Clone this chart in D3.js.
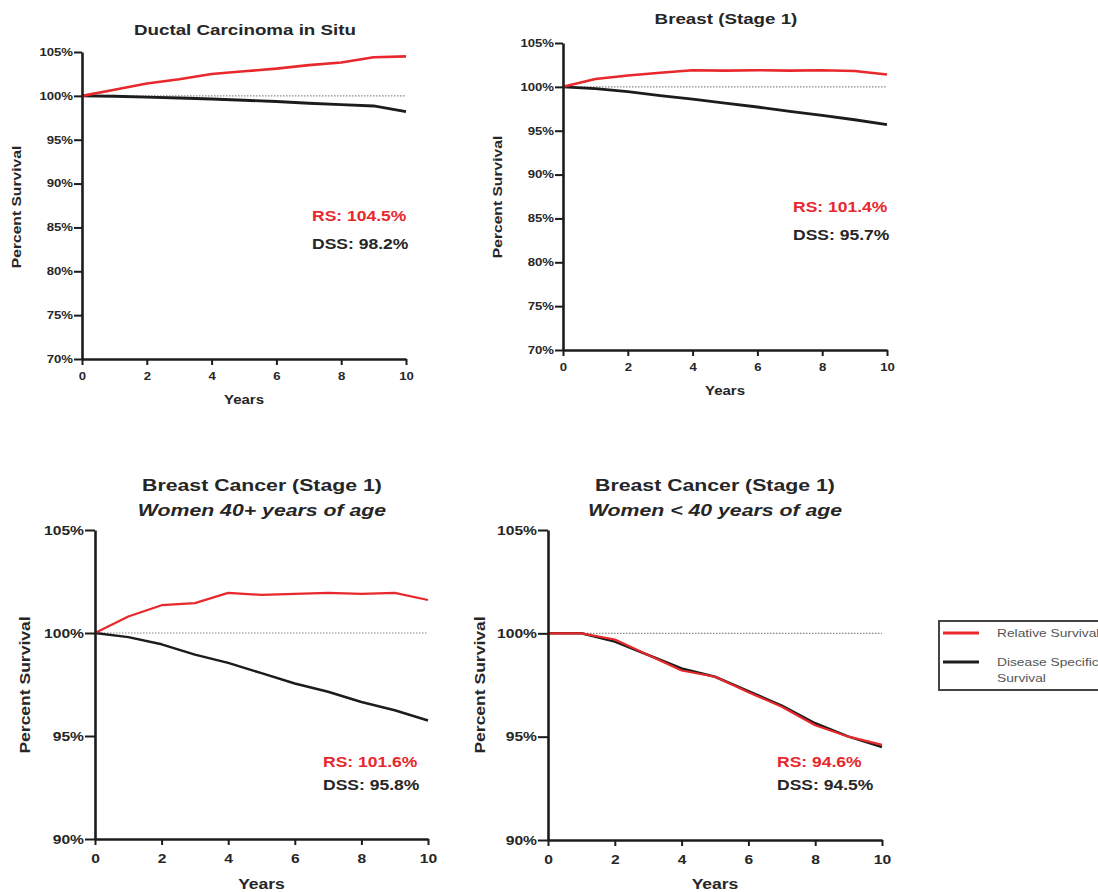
<!DOCTYPE html>
<html><head><meta charset="utf-8">
<script src="https://cdn.jsdelivr.net/npm/d3@7"></script>
<style>
html,body{margin:0;padding:0;background:#fff;}
svg{display:block;font-family:"Liberation Sans",Arial,sans-serif;}
</style></head>
<body>
<svg id="chart" width="1098" height="892"></svg>
<script>
// ---- data ----
const years = [0,1,2,3,4,5,6,7,8,9,10];
const dcisRS  = [100,100.7,101.4,101.9,102.5,102.8,103.1,103.5,103.8,104.4,104.5];
const dcisDSS = [100,99.95,99.85,99.75,99.65,99.5,99.35,99.15,99.0,98.85,98.2];
const bs1RS   = [100,100.9,101.3,101.6,101.9,101.85,101.9,101.85,101.9,101.8,101.4];
const bs1DSS  = [100,99.8,99.45,99.0,98.6,98.15,97.7,97.2,96.75,96.25,95.7];
const w40pRS  = [100,100.8,101.35,101.45,101.95,101.85,101.9,101.95,101.9,101.95,101.6];
const w40pDSS = [100,99.8,99.45,98.95,98.55,98.05,97.55,97.15,96.65,96.25,95.75];
const w40mRS  = [100,100,99.7,98.95,98.2,97.9,97.15,96.45,95.55,95.0,94.6];
const w40mDSS = [100,100,99.6,98.95,98.3,97.9,97.2,96.5,95.65,95.0,94.5];
const titles = [["Ductal Carcinoma in Situ"],["Breast (Stage 1)"],["Breast Cancer (Stage 1)","Women 40+ years of age"],["Breast Cancer (Stage 1)","Women < 40 years of age"]];
const rsLabels  = ["RS: 104.5%","RS: 101.4%","RS: 101.6%","RS: 94.6%"];
const dssLabels = ["DSS: 98.2%","DSS: 95.7%","DSS: 95.8%","DSS: 94.5%"];
const yTicksTop = [70,75,80,85,90,95,100,105];
const yTicksBottom = [90,95,100,105];
const xTicks = [0,2,4,6,8,10];
const legendLabels = [["Relative Survival"],["Disease Specific","Survival"]];

const RED = "#e8282c", BLACK = "#1c1c1c", TXT = "#262626";
const SX = 1.25; // horizontal text stretch seen in the reference

function stretch(sel){
  sel.each(function(){
    const w = this.getComputedTextLength();
    d3.select(this).attr("textLength", w*SX).attr("lengthAdjust","spacingAndGlyphs");
  });
}

const panels = [
  {rs:dcisRS, dss:dcisDSS, x0:82, x1:406, yT:52, yB:359, dom:[70,105], yt:yTicksTop, tf:10.5, ytick:8, xpad:8, titleX:245, titleY:[35], ylabX:17, ylabY:207, ylf:12.5, yearsY:404, txtX:312, rsY:221, dssY:249, lw:2.6, big:false},
  {rs:bs1RS, dss:bs1DSS, x0:563, x1:887, yT:43, yB:350, dom:[70,105], yt:yTicksTop, tf:10.5, ytick:8, xpad:8, titleX:726, titleY:[24], ylabX:498, ylabY:197, ylf:12.5, yearsY:395, txtX:793, rsY:212, dssY:240, lw:2.6, big:false},
  {rs:w40pRS, dss:w40pDSS, x0:95, x1:428, yT:530, yB:839, dom:[90,105], yt:yTicksBottom, tf:12.5, ytick:10, xpad:9, titleX:262, titleY:[491,516], ylabX:25, ylabY:685, ylf:14, yearsY:889, txtX:323, rsY:767, dssY:790, lw:2.2, big:true},
  {rs:w40mRS, dss:w40mDSS, x0:548, x1:882, yT:530, yB:840, dom:[90,105], yt:yTicksBottom, tf:12.5, ytick:10, xpad:9, titleX:715, titleY:[491,516], ylabX:480, ylabY:685, ylf:14, yearsY:889, txtX:777, rsY:767, dssY:790, lw:2.2, big:true}
];

const svg = d3.select("#chart");

panels.forEach((p,i)=>{
  const x = d3.scaleLinear().domain([0,10]).range([p.x0,p.x1]);
  const y = d3.scaleLinear().domain(p.dom).range([p.yB,p.yT]);
  const g = svg.append("g");

  // dotted reference line at 100%
  g.append("line").attr("x1",x(0)).attr("x2",x(10)).attr("y1",y(100)).attr("y2",y(100))
    .attr("stroke","#8a8a8a").attr("stroke-width",1.2).attr("stroke-dasharray","1.5,1.5");

  const line = d3.line().x((d,j)=>x(years[j])).y(d=>y(d));
  g.append("path").datum(p.dss).attr("d",line).attr("fill","none").attr("stroke",BLACK).attr("stroke-width",p.lw+0.3).attr("stroke-linejoin","round");
  g.append("path").datum(p.rs).attr("d",line).attr("fill","none").attr("stroke",RED).attr("stroke-width",p.lw).attr("stroke-linejoin","round");

  // axes
  const ya = g.append("g").attr("transform",`translate(${p.x0},0)`)
    .call(d3.axisLeft(y).tickValues(p.yt).tickFormat(d=>d+"%").tickSize(p.ytick).tickSizeOuter(0).tickPadding(1));
  const xa = g.append("g").attr("transform",`translate(0,${p.yB})`)
    .call(d3.axisBottom(x).tickValues(xTicks).tickFormat(d3.format("d")).tickSize(6).tickSizeOuter(0).tickPadding(p.xpad));
  [ya,xa].forEach(a=>{
    a.select(".domain").attr("stroke",BLACK).attr("stroke-width",2.6);
    a.selectAll(".tick line").attr("stroke",BLACK).attr("stroke-width",2);
    a.selectAll("text").attr("fill",TXT).attr("font-size",p.tf).attr("font-weight","bold")
      .attr("font-family","'Liberation Sans',Arial,sans-serif");
  });
  stretch(ya.selectAll("text"));
  stretch(xa.selectAll("text"));

  // titles
  p.titleY.forEach((ty,k)=>{
    g.append("text").attr("x",p.titleX).attr("y",ty).attr("text-anchor","middle")
      .attr("font-size",p.big?17:15).attr("font-weight","bold").attr("fill",TXT)
      .attr("font-style",k===1?"italic":"normal").text(titles[i][k]).call(stretch);
  });
  // axis titles
  g.append("text").attr("transform",`translate(${p.ylabX},${p.ylabY}) rotate(-90)`)
    .attr("text-anchor","middle").attr("dominant-baseline","central")
    .attr("font-size",p.ylf).attr("font-weight","bold").attr("fill",TXT).text("Percent Survival").call(stretch);
  g.append("text").attr("x",(p.x0+p.x1)/2).attr("y",p.yearsY).attr("text-anchor","middle")
    .attr("font-size",p.big?14:12).attr("font-weight","bold").attr("fill",TXT).text("Years").call(stretch);

  // annotations
  g.append("text").attr("x",p.txtX).attr("y",p.rsY).attr("font-size",14).attr("font-weight","bold").attr("fill",RED).text(rsLabels[i]).call(stretch);
  g.append("text").attr("x",p.txtX).attr("y",p.dssY).attr("font-size",14).attr("font-weight","bold").attr("fill",TXT).text(dssLabels[i]).call(stretch);
});

// legend
const lg = svg.append("g");
lg.append("rect").attr("x",939).attr("y",621).attr("width",200).attr("height",69)
  .attr("fill","#fff").attr("stroke","#444").attr("stroke-width",2);
const legColors = [RED, BLACK];
const legY = [633, 662];
legendLabels.forEach((lab,k)=>{
  lg.append("line").attr("x1",943).attr("x2",979).attr("y1",legY[k]).attr("y2",legY[k])
    .attr("stroke",legColors[k]).attr("stroke-width",3);
  lab.forEach((t,m)=>{
    lg.append("text").attr("x",997).attr("y",legY[k]+m*16).attr("dominant-baseline","central")
      .attr("font-size",11).attr("fill","#555").text(t).call(stretch);
  });
});
</script>
</body></html>
